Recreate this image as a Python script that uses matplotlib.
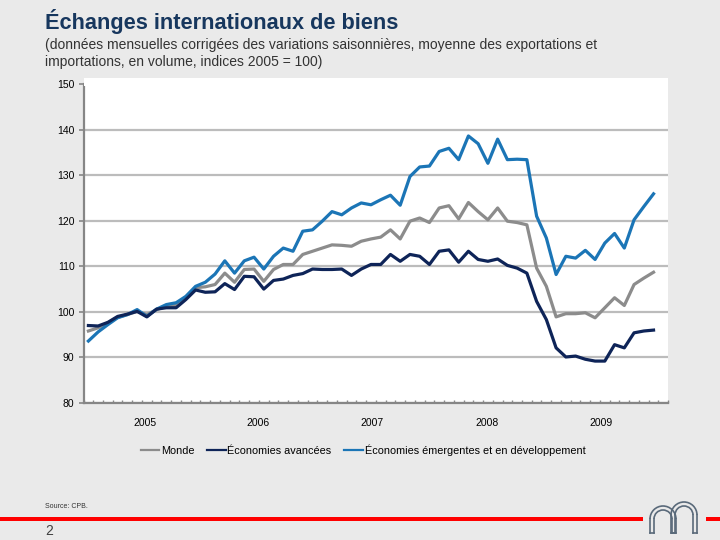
import numpy as np
import matplotlib
matplotlib.use("Agg")
import matplotlib.pyplot as plt
from matplotlib.patches import Rectangle, Arc

plt.rcParams['font.family'] = ['Liberation Sans', 'DejaVu Sans']

# monthly values, Jan 2005 .. Nov 2009
monde = [95.8, 96.5, 97.6, 98.8, 99.4, 100.1, 99.4, 100.5, 101.2, 101.4,
         103.0, 105.3, 105.5, 106.0, 108.5, 106.5, 109.3, 109.4, 106.7, 109.3,
         110.4, 110.4, 112.6, 113.3, 114.0, 114.7, 114.6, 114.4, 115.5, 116.0,
         116.4, 118.0, 116.0, 119.9, 120.6, 119.6, 122.8, 123.3, 120.4, 124.0,
         122.0, 120.2, 122.8, 119.9, 119.6, 119.1, 109.6, 105.6, 98.9, 99.6,
         99.6, 99.8, 98.7, 100.9, 103.1, 101.4, 106.0, 107.4, 108.7]
avancees = [97.0, 96.9, 97.7, 99.0, 99.5, 100.1, 98.9, 100.6, 100.9, 100.9,
            102.7, 104.8, 104.3, 104.4, 106.2, 104.9, 107.8, 107.7, 105.0, 106.9,
            107.2, 108.0, 108.4, 109.4, 109.3, 109.3, 109.4, 108.0, 109.4, 110.4,
            110.4, 112.6, 111.1, 112.6, 112.2, 110.4, 113.3, 113.6, 110.9, 113.3,
            111.5, 111.1, 111.6, 110.2, 109.6, 108.5, 102.3, 98.3, 92.1, 90.1,
            90.3, 89.6, 89.2, 89.2, 92.8, 92.1, 95.4, 95.8, 96.0]
emergentes = [93.6, 95.6, 97.2, 98.7, 99.4, 100.5, 99.0, 100.6, 101.6, 102.0,
              103.4, 105.6, 106.5, 108.3, 111.2, 108.5, 111.2, 112.0, 109.4, 112.2,
              114.0, 113.3, 117.7, 118.0, 119.9, 122.0, 121.3, 122.8, 123.9, 123.5,
              124.6, 125.6, 123.4, 129.7, 131.8, 132.0, 135.2, 135.9, 133.4, 138.6,
              136.9, 132.6, 137.9, 133.4, 133.5, 133.4, 121.0, 116.2, 108.2, 112.2,
              111.8, 113.5, 111.5, 115.1, 117.2, 114.0, 120.2, 123.1, 125.9]
n_months = 60
years = ['2005', '2006', '2007', '2008', '2009']
year_pos = [5.8, 17.4, 29.1, 40.9, 52.6]
labels = ['Monde', 'Économies avancées', 'Économies émergentes et en développement']

bg = '#eaeaea'
fig = plt.figure(figsize=(7.2, 5.4), dpi=100, facecolor=bg)

# white plot background a bit above the top gridline
fig.patches.append(Rectangle((0.116, 0.84), 0.812, 0.016, transform=fig.transFigure,
                             facecolor='white', edgecolor='none', zorder=0))

ax = fig.add_axes([0.116, 0.2537, 0.812, 0.5907])
ax.set_facecolor('white')
x = np.arange(len(monde))
ax.plot(x, monde, color='#8c8c8c', lw=2.3, label=labels[0], zorder=3)
ax.plot(x, avancees, color='#0e2458', lw=2.3, label=labels[1], zorder=4)
ax.plot(x, emergentes, color='#1b75b6', lw=2.3, label=labels[2], zorder=3)

ax.set_xlim(-0.5, n_months - 0.5)
ax.set_ylim(80, 150)
ax.set_yticks(np.arange(80, 151, 10))
ax.yaxis.grid(True, color='#bcbcbc', lw=1.6)
ax.set_axisbelow(True)

ax.set_xticks(year_pos)
ax.set_xticklabels(years)
ax.set_xticks(np.arange(-0.5, n_months, 1), minor=True)
ax.tick_params(axis='x', which='major', length=0, pad=11, labelsize=7.5)
ax.tick_params(axis='x', which='minor', direction='in', length=2.5, width=1, color='#868686')
ax.tick_params(axis='y', length=3.5, width=1.2, color='#868686', labelsize=7.5, pad=3)

for s in ['top', 'right']:
    ax.spines[s].set_visible(False)
for s in ['left', 'bottom']:
    ax.spines[s].set_color('#868686')
    ax.spines[s].set_linewidth(1.6)

leg = fig.legend(loc='center', bbox_to_anchor=(363 / 720, 1 - 450 / 540), ncol=3,
                 frameon=False, fontsize=7.8, handlelength=1.7, handletextpad=0.15,
                 columnspacing=1.2)
for line in leg.get_lines():
    line.set_linewidth(1.6)

fig.text(45 / 720, 1 - 22 / 540, 'Échanges internationaux de biens', fontsize=15.7,
         fontweight='bold', color='#17375e', va='center')
fig.text(45 / 720, 1 - 45 / 540,
         '(données mensuelles corrigées des variations saisonnières, moyenne des exportations et',
         fontsize=10, color='#333333', va='center')
fig.text(45 / 720, 1 - 62 / 540, 'importations, en volume, indices 2005 = 100)',
         fontsize=10, color='#333333', va='center')
fig.text(45 / 720, 1 - 506 / 540, 'Source: CPB.', fontsize=5, color='#333333', va='center')
fig.text(45 / 720, 1 - 531 / 540, '2', fontsize=10, color='#404040', va='center')

# red bar
fig.patches.append(Rectangle((0, 1 - 521 / 540), 643 / 720, 4 / 540, transform=fig.transFigure,
                             facecolor='#ff0000', edgecolor='none'))
fig.patches.append(Rectangle((706 / 720, 1 - 521 / 540), 14 / 720, 4 / 540,
                             transform=fig.transFigure, facecolor='#ff0000', edgecolor='none'))

# logo (two arches)
lg = fig.add_axes([646 / 720, 1 - 535 / 540, 56 / 720, 34 / 540])
lg.set_xlim(0, 56)
lg.set_ylim(0, 34)
lg.axis('off')
c = '#5a6a7a'
for cx, cy, r in [(17, 16, 13), (38, 20, 13)]:
    lg.add_patch(Arc((cx, cy), 2 * r, 2 * r, theta1=0, theta2=180, color=c, lw=1.2))
    lg.add_patch(Arc((cx, cy), 2 * r - 8, 2 * r - 8, theta1=0, theta2=180, color=c, lw=1.2))
    for xx in [cx - r, cx - r + 4, cx + r - 4, cx + r]:
        lg.plot([xx, xx], [2, cy], color=c, lw=1.2)
    lg.plot([cx - r, cx - r + 4], [2, 2], color=c, lw=1.2)
    lg.plot([cx + r - 4, cx + r], [2, 2], color=c, lw=1.2)

fig.savefig('out.png', dpi=100, facecolor=bg)
